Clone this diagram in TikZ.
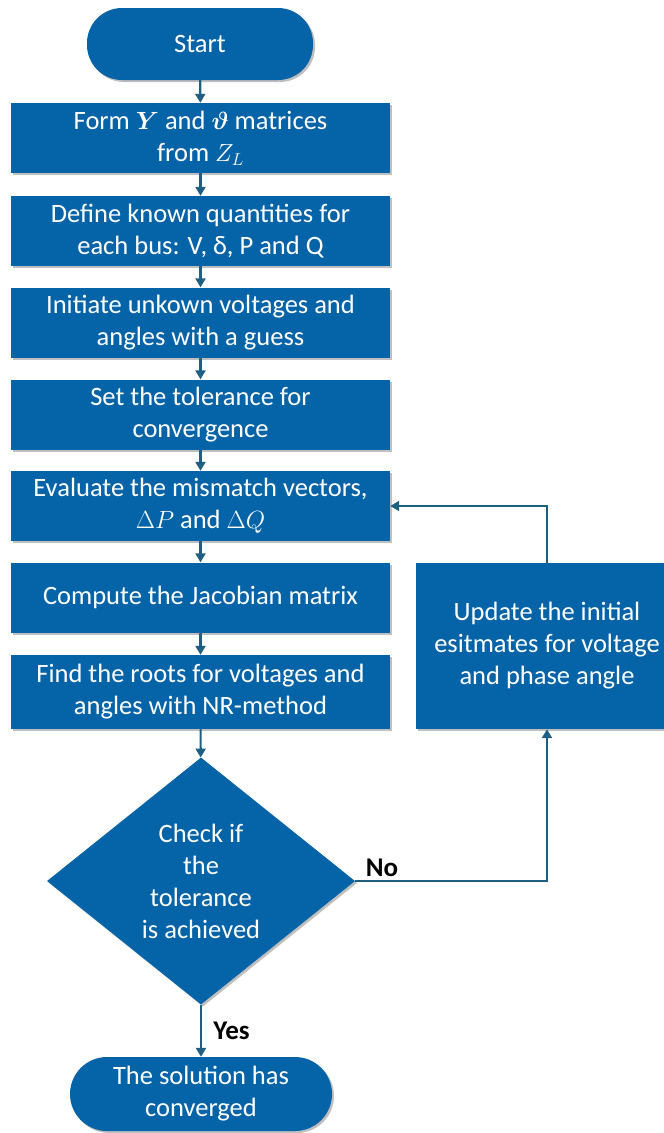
\documentclass[tikz,border=0pt]{standalone}
\usepackage{amsmath,bm}
\usepackage{fontspec}
\setmainfont{Carlito}
\usetikzlibrary{arrows.meta,positioning,shapes.geometric,shadows}
\definecolor{boxblue}{HTML}{0563A8}
\definecolor{linkblue}{HTML}{1F5F82}

\begin{document}
\begin{tikzpicture}[x=1pt,y=-1pt,font=\fontsize{26.5}{32}\selectfont,
  shade/.style={drop shadow={shadow xshift=2pt,shadow yshift=-2pt,opacity=0.25,fill=black}},
  proc/.style={shade,fill=boxblue,text=white,minimum width=379pt,minimum height=70pt,align=center,inner sep=2pt},
  term/.style={shade,fill=boxblue,text=white,rounded corners=35pt,minimum height=72pt,align=center,inner sep=2pt},
  dec/.style={shade,diamond,fill=boxblue,text=white,aspect=1.25,minimum width=308pt,minimum height=247pt,align=center,inner sep=0pt},
  flow/.style={draw=linkblue,line width=2.2pt,-{Triangle[length=9pt,width=10pt]}},
  lbl/.style={font=\fontsize{27}{30}\selectfont\bfseries,text=black}]
\clip (0,0) rectangle (664,1133);
% main column
\node[term,minimum width=226pt] (start) at (200,44) {Start};
\node[proc] (form) at (200.5,138) {Form $\bm{Y}$ and $\bm{\vartheta}$ matrices\\from $Z_L$};
\node[proc] (known) at (200.5,231) {Define known quantities for\\each bus: V, δ, P and Q};
\node[proc] (guess) at (200.5,322.5) {Initiate unkown voltages and\\angles with a guess};
\node[proc] (tol) at (200.5,414.5) {Set the tolerance for\\convergence};
\node[proc] (mism) at (200.5,506) {Evaluate the mismatch vectors,\\$\Delta P$ and $\Delta Q$};
\node[proc] (jac) at (200.5,597.5) {Compute the Jacobian matrix};
\node[proc,minimum height=74pt] (roots) at (200.5,692) {Find the roots for voltages and\\angles with NR-method};
\node[dec] (check) at (201,881) {Check if\\the\\tolerance\\is achieved};
\node[term,minimum width=262pt,minimum height=74pt,rounded corners=37pt] (done) at (201,1094) {The solution has\\converged};
% loop back
\node[proc,minimum width=262pt,minimum height=166pt] (upd) at (547,646) {Update the initial\\esitmates for voltage\\and phase angle};
\draw[flow] (start) -- (form);
\draw[flow] (form) -- (known);
\draw[flow] (known) -- (guess);
\draw[flow] (guess) -- (tol);
\draw[flow] (tol) -- (mism);
\draw[flow] (mism) -- (jac);
\draw[flow] (jac) -- (roots);
\draw[flow] (roots) -- (check);
\draw[flow] (check) -- node[lbl,right=8pt]{Yes} (done);
\draw[flow] (check.east) -| node[lbl,pos=0.07,above]{No} (upd.south);
\draw[flow] (upd.north) |- (mism.east);
\end{tikzpicture}
\end{document}
